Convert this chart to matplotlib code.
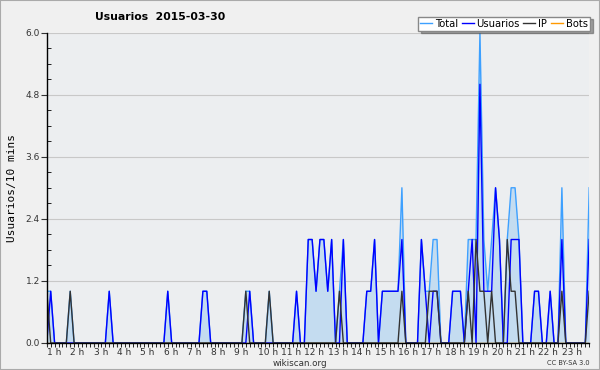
import matplotlib
matplotlib.use("Agg")
import matplotlib.pyplot as plt
from matplotlib.patches import Rectangle
import numpy as np

# 10-minute samples, 140 points
total = [1, 1, 0, 0, 0, 0, 1, 0, 0, 0, 0, 0, 0, 0, 0, 0, 1, 0, 0, 0,
         0, 0, 0, 0, 0, 0, 0, 0, 0, 0, 0, 1, 0, 0, 0, 0, 0, 0, 0, 0,
         1, 1, 0, 0, 0, 0, 0, 0, 0, 0, 0, 1, 1, 0, 0, 0, 0, 1, 0, 0,
         0, 0, 0, 0, 1, 0, 0, 2, 2, 1, 2, 2, 1, 2, 0, 1, 2, 0, 0, 0,
         0, 0, 1, 1, 2, 0, 1, 1, 1, 1, 1, 3, 0, 0, 0, 0, 2, 1, 1, 2,
         2, 0, 0, 0, 1, 1, 1, 0, 2, 2, 2, 6, 2, 1, 2, 3, 2, 0, 2, 3,
         3, 2, 0, 0, 0, 1, 1, 0, 0, 1, 0, 0, 3, 0, 0, 0, 0, 0, 0, 3]
usuarios = [0, 1, 0, 0, 0, 0, 0, 0, 0, 0, 0, 0, 0, 0, 0, 0, 1, 0, 0, 0,
            0, 0, 0, 0, 0, 0, 0, 0, 0, 0, 0, 1, 0, 0, 0, 0, 0, 0, 0, 0,
            1, 1, 0, 0, 0, 0, 0, 0, 0, 0, 0, 0, 1, 0, 0, 0, 0, 0, 0, 0,
            0, 0, 0, 0, 1, 0, 0, 2, 2, 1, 2, 2, 1, 2, 0, 0, 2, 0, 0, 0,
            0, 0, 1, 1, 2, 0, 1, 1, 1, 1, 1, 2, 0, 0, 0, 0, 2, 1, 0, 1,
            1, 0, 0, 0, 1, 1, 1, 0, 1, 2, 0, 5, 1, 1, 1, 3, 2, 0, 0, 2,
            2, 2, 0, 0, 0, 1, 1, 0, 0, 1, 0, 0, 2, 0, 0, 0, 0, 0, 0, 2]
ip = [1, 0, 0, 0, 0, 0, 1, 0, 0, 0, 0, 0, 0, 0, 0, 0, 0, 0, 0, 0,
      0, 0, 0, 0, 0, 0, 0, 0, 0, 0, 0, 0, 0, 0, 0, 0, 0, 0, 0, 0,
      0, 0, 0, 0, 0, 0, 0, 0, 0, 0, 0, 1, 0, 0, 0, 0, 0, 1, 0, 0,
      0, 0, 0, 0, 0, 0, 0, 0, 0, 0, 0, 0, 0, 0, 0, 1, 0, 0, 0, 0,
      0, 0, 0, 0, 0, 0, 0, 0, 0, 0, 0, 1, 0, 0, 0, 0, 0, 0, 1, 1,
      1, 0, 0, 0, 0, 0, 0, 0, 1, 0, 2, 1, 1, 0, 1, 0, 0, 0, 2, 1,
      1, 0, 0, 0, 0, 0, 0, 0, 0, 0, 0, 0, 1, 0, 0, 0, 0, 0, 0, 1]
bots = [0] * 140

hour_labels = ["%d h" % h for h in range(1, 24)]

x = np.arange(len(total))

fig = plt.figure(figsize=(6, 3.7), dpi=100, facecolor="#f0f0f0")
ax = fig.add_axes([0.078, 0.073, 0.904, 0.839])
ax.set_facecolor("#eceef0")

ax.fill_between(x, total, color="#c4dcf0", lw=0)
ax.plot(x, bots, color="#ff9900", lw=1, label="Bots", zorder=1)
ax.plot(x, total, color="#3da0ff", lw=1, label="Total")
ax.plot(x, usuarios, color="#0000ff", lw=1, label="Usuarios")
ax.plot(x, ip, color="#333333", lw=1, label="IP")

ax.set_xlim(0, len(x) - 1)
ax.set_ylim(0, 6)
ax.set_yticks(np.arange(0, 6.01, 1.2))
ax.set_yticklabels(["%.1f" % v for v in np.arange(0, 6.01, 1.2)])
ax.set_yticks(np.arange(0, 6.01, 0.3), minor=True)
ax.grid(axis="y", color="#c8c8c8", lw=0.8)
ax.set_axisbelow(True)

ax.set_xticks(np.arange(0, 6 * 23, 6))
ax.set_xticklabels(hour_labels, ha="left")
ax.set_xticks(x, minor=True)
ax.tick_params(axis="x", which="major", length=3, labelsize=6.5, pad=0.5, colors="#333333")
ax.tick_params(axis="x", which="minor", length=3, direction="out")
ax.tick_params(axis="y", which="major", length=4, labelsize=6.5, pad=1, colors="#333333")
ax.tick_params(axis="y", which="minor", length=3, direction="in")
for lab in ax.get_xticklabels():
    lab.set_color("#333333")

for s in ["top", "right"]:
    ax.spines[s].set_visible(False)
ax.spines["left"].set_linewidth(1)
ax.spines["bottom"].set_linewidth(1)

ax.set_ylabel("Usuarios/10 mins", family="DejaVu Sans Mono", fontsize=8, labelpad=6)

fig.text(0.158, 0.953, "Usuarios  2015-03-30", fontsize=7.8, fontweight="bold", va="center")

handles, labels = ax.get_legend_handles_labels()
order = [1, 2, 3, 0]
fig.legend([handles[i] for i in order], [labels[i] for i in order],
           loc="upper right", bbox_to_anchor=(0.983, 0.955), ncol=4,
           fontsize=7.2, frameon=True, fancybox=False, shadow=True,
           edgecolor="#888888", handlelength=1.2, handletextpad=0.3,
           columnspacing=0.35, borderpad=0.2, borderaxespad=0)

fig.text(0.5, 0.018, "wikiscan.org", ha="center", va="center", fontsize=6.3, color="#333333")
fig.text(0.983, 0.018, "CC BY-SA 3.0", ha="right", va="center", fontsize=4.8, color="#333333")

fig.patches.append(Rectangle((0, 0), 1, 1, transform=fig.transFigure, fill=False,
                             edgecolor="#aaaaaa", lw=1.5))

fig.savefig("out.png", dpi=100, facecolor=fig.get_facecolor())
